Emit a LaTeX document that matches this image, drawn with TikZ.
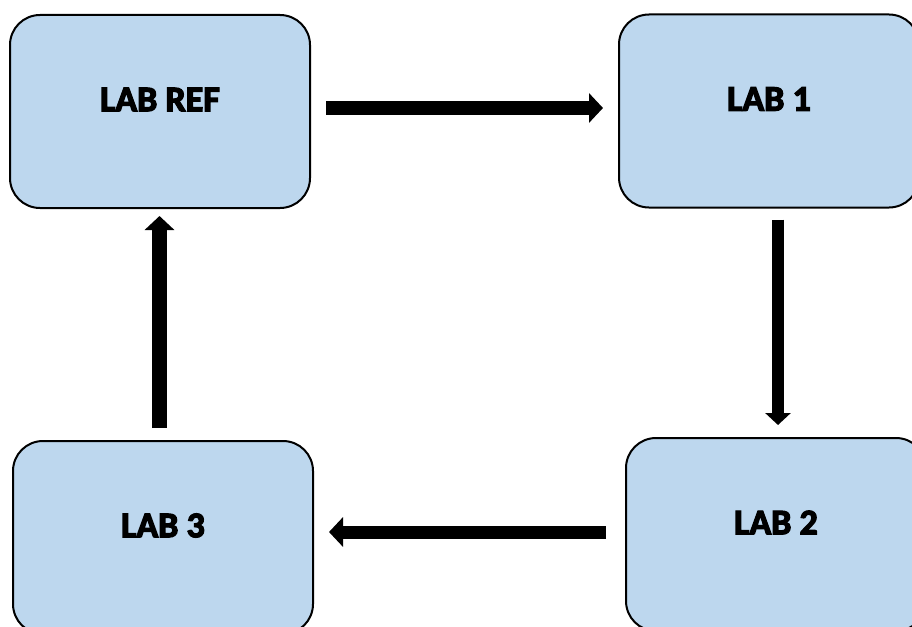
\documentclass[tikz,border=0pt]{standalone}
\usepackage{fontspec}
\newfontfamily\labfont{Carlito}[BoldFeatures={FakeBold=3.5}]
\usetikzlibrary{arrows.meta}
\definecolor{boxblue}{HTML}{BDD7EE}
\tikzset{
  labbox/.style={draw=black, line width=2pt, fill=boxblue, rounded corners=30pt,
    minimum width=300pt, minimum height=193pt, inner sep=0pt},
  labtext/.style={font=\labfont\bfseries\fontsize{36pt}{40pt}\selectfont, inner sep=0pt, yshift=12pt},
  blockarrow/.style={draw=black, line width=#1, line cap=butt,
    -{Triangle[length=14pt,width=29pt]}},
  blockarrow/.default=14pt
}
\begin{document}
\begin{tikzpicture}[x=1pt,y=-1pt]
\useasboundingbox (0,0) rectangle (912,626);
\node[labbox, label={[labtext]center:LAB REF}] (ref) at (160,111.5) {};
\node[labbox, label={[labtext]center:LAB 1}] (lab1) at (769,111) {};
\node[labbox, label={[labtext]center:LAB 2}] (lab2) at (776,534.5) {};
\node[labbox, label={[labtext]center:LAB 3}] (lab3) at (163,537.5) {};
\draw[blockarrow=14pt, shorten <=15pt, shorten >=15pt]
  ([yshift=3.5pt]ref.east) -- ([yshift=3pt]lab1.west);
\draw[blockarrow=12pt, -{Triangle[length=12pt,width=25pt]}, shorten <=11pt, shorten >=12pt]
  ([xshift=9pt]lab1.south) -- ([xshift=2pt]lab2.north);
\draw[blockarrow=13pt, shorten <=19pt, shorten >=15pt]
  ([yshift=2.5pt]lab2.west) -- ([yshift=5.5pt]lab3.east);
\draw[blockarrow=15pt, shorten <=12pt, shorten >=7pt]
  ([xshift=-3.5pt]lab3.north) -- ([xshift=-0.5pt]ref.south);
\end{tikzpicture}
\end{document}
